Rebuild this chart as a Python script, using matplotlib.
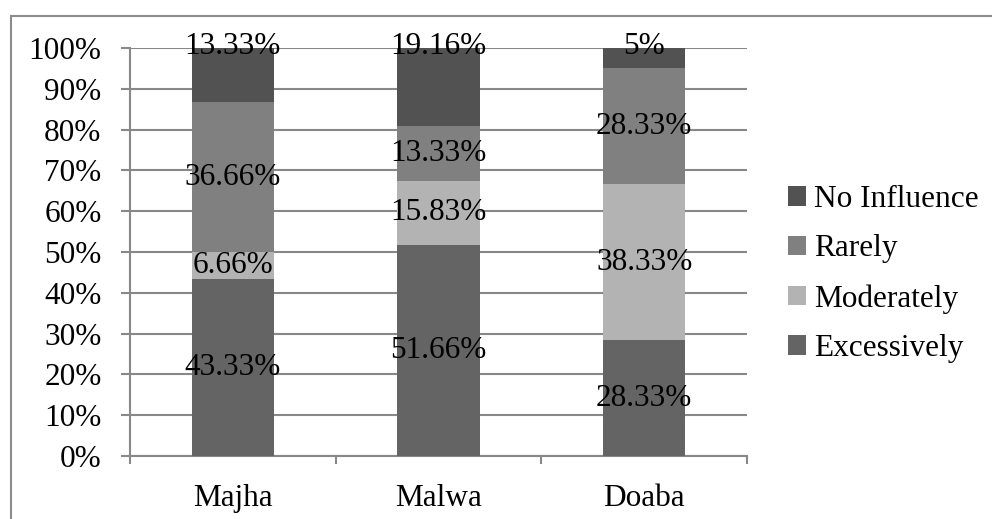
import matplotlib
matplotlib.use("Agg")
import matplotlib.pyplot as plt
from matplotlib.patches import Rectangle
from matplotlib.ticker import FixedLocator, PercentFormatter

plt.rcParams["font.family"] = ["Liberation Serif", "DejaVu Serif"]

regions = ["Majha", "Malwa", "Doaba"]
excessively = [43.33, 51.66, 28.33]
moderately = [6.66, 15.83, 38.33]
rarely = [36.66, 13.33, 28.33]
no_influence = [13.33, 19.16, 5.00]

series = [
    ("Excessively", excessively, "#646464"),
    ("Moderately", moderately, "#b3b3b3"),
    ("Rarely", rarely, "#808080"),
    ("No Influence", no_influence, "#525252"),
]

fs = 22.5
grid_c = "#888888"

fig = plt.figure(figsize=(9.92, 5.19), dpi=100)
ax = fig.add_axes([130 / 992, 1 - 456 / 519, 617 / 992, 408 / 519])

# outer chart frame (only top and left edges fall inside the image)
fig.patches.append(Rectangle((11 / 992, -0.1), 1.2, 1 - 16 / 519 + 0.1,
                             transform=fig.transFigure, fill=False,
                             edgecolor="#8c8c8c", linewidth=1.5, zorder=0))

x = list(range(len(regions)))
bottom = [0.0] * len(regions)
handles = []
for name, vals, color in series:
    bars = ax.bar(x, vals, width=0.4, bottom=bottom, color=color,
                  label=name, zorder=3)
    handles.append(bars)
    for i, v in enumerate(vals):
        if name == "No Influence":
            ypos = 100.3
        else:
            ypos = bottom[i] + v / 2
        txt = f"{v:g}%" if v != int(v) else f"{int(v)}%"
        ax.text(i, ypos, txt, ha="center", va="center", fontsize=fs,
                color="black", zorder=5)
    bottom = [b + v for b, v in zip(bottom, vals)]

ax.set_xlim(-0.5, 2.5)
ax.set_ylim(0, 100)
ax.yaxis.set_major_locator(FixedLocator(range(0, 101, 10)))
ax.yaxis.set_major_formatter(PercentFormatter(decimals=0))
ax.set_xticks(x)
ax.set_xticklabels(regions)
ax.xaxis.set_minor_locator(FixedLocator([-0.5, 0.5, 1.5, 2.5]))

ax.grid(axis="y", color=grid_c, linewidth=1.5, zorder=0)
for s in ["top", "right"]:
    ax.spines[s].set_visible(False)
for s in ["left", "bottom"]:
    ax.spines[s].set_color(grid_c)
    ax.spines[s].set_linewidth(1.5)

ax.tick_params(axis="y", length=6.5, width=1.5, color=grid_c,
               labelsize=fs, pad=14)
ax.tick_params(axis="x", which="major", length=0, labelsize=fs, pad=20)
ax.tick_params(axis="x", which="minor", length=6, width=1.5, color=grid_c)

leg = ax.legend(handles=handles[::-1], loc="center left",
                bbox_to_anchor=(772 / 992, 1 - 274 / 519),
                bbox_transform=fig.transFigure, frameon=False,
                fontsize=fs, handlelength=0.6, handleheight=0.6,
                handletextpad=0.25, labelspacing=0.66, borderpad=0)

fig.savefig("out.png", dpi=100)
